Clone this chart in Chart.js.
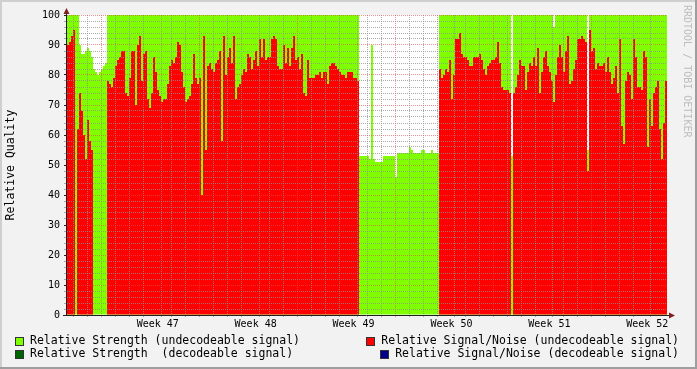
<!DOCTYPE html>
<html>
<head>
<meta charset="utf-8">
<script src="https://cdn.jsdelivr.net/npm/chart.js@4.4.1/dist/chart.umd.min.js"></script>
<style>
  html, body { margin: 0; padding: 0; background: #f2f2f2; }
  #wrap { width: 697px; height: 369px; }
</style>
</head>
<body>
<div id="wrap"><canvas id="qualityChart" width="697" height="369"></canvas></div>
<script>
// x axis runs in days, week 47 starts at day 0
const weekLabels = ['Week 47', 'Week 48', 'Week 49', 'Week 50', 'Week 51', 'Week 52'];
const yLabels = [0, 10, 20, 30, 40, 50, 60, 70, 80, 90, 100];
const seriesNames = [
  'Relative Strength (undecodeable signal)',
  'Relative Signal/Noise (undecodeable signal)',
  'Relative Strength  (decodeable signal)',
  'Relative Signal/Noise (decodeable signal)'
];

// one value per ~3.4 hours
const strengthUndecodeable = [
  100,100,100,100,100,100,90,87,87,88,89,88,86,82,81,80,81,82,83,84,
  100,100,100,100,100,100,100,100,100,100,100,100,100,100,100,100,100,100,100,100,
  100,100,100,100,100,100,100,100,100,100,100,100,100,100,100,100,100,100,100,100,
  100,100,100,100,100,100,100,100,100,100,100,100,100,100,100,100,100,100,100,100,
  100,100,100,100,100,100,100,100,100,100,100,100,100,100,100,100,100,100,100,100,
  100,100,100,100,100,100,100,100,100,100,100,100,100,100,100,100,100,100,100,100,
  100,100,100,100,100,100,100,100,100,100,100,100,100,100,100,100,100,100,100,100,
  100,100,100,100,100,100,53,53,53,53,53,52,90,52,51,51,51,51,53,53,
  53,53,53,53,46,54,54,54,54,54,54,56,55,54,54,54,54,55,55,54,
  54,54,55,54,54,54,100,100,100,100,100,100,100,100,100,100,100,100,100,100,
  100,100,100,100,100,100,100,100,100,100,100,100,100,100,100,100,100,100,100,100,
  100,100,53,100,100,100,100,100,100,100,100,100,100,100,100,100,100,100,100,100,
  100,100,100,96,100,100,100,100,100,100,100,100,100,100,100,100,100,100,100,100,
  55,100,100,100,100,100,100,100,100,100,100,100,100,100,100,100,100,100,100,100,
  100,100,100,100,100,100,100,100,100,100,100,100,100,100,100,100,100,100,100,100
];

const signalNoiseUndecodeable = [
  90,91,93,95,null,62,74,68,60,52,65,58,55,null,null,null,null,null,null,null,
  78,77,76,79,83,85,86,88,88,74,73,79,88,88,70,90,93,78,87,88,
  72,69,74,86,81,75,73,71,72,72,77,83,85,84,86,91,90,81,76,71,
  72,73,77,87,79,77,79,40,93,55,83,84,82,81,84,85,88,58,93,80,
  86,89,84,93,72,76,77,80,82,81,87,86,82,85,88,83,92,86,92,85,
  86,86,92,93,92,83,82,82,90,84,89,83,89,93,85,86,82,87,74,73,
  85,79,79,79,80,80,81,79,81,81,77,83,84,84,83,82,81,80,80,79,
  81,81,81,79,79,78,null,null,null,null,null,null,null,null,null,null,null,null,null,null,
  null,null,null,null,null,null,null,null,null,null,null,null,null,null,null,null,null,null,null,null,
  null,null,null,null,null,null,82,79,80,82,81,85,72,80,92,92,94,87,86,86,
  85,83,83,86,86,86,87,85,82,80,83,84,85,85,86,91,84,76,75,75,
  75,74,null,74,76,80,85,83,83,75,81,84,83,86,83,89,74,81,86,88,
  83,81,78,71,80,86,90,86,81,88,93,77,78,82,85,92,92,93,92,91,
  48,95,88,89,82,84,83,83,84,81,86,81,77,79,83,74,92,63,57,78,
  81,80,72,92,86,76,76,75,88,86,56,72,63,74,76,78,62,52,64,78
];

const GREEN = '#7fff00';
const RED = '#ff0000';
const legendColors = [GREEN, RED, '#006400', '#00008b'];
const GRID = 'rgba(143,143,143,0.75)';
const MGRID = 'rgba(222,79,79,0.6)';
const MONO = 'DejaVu Sans Mono';

Chart.defaults.font.family = MONO;
Chart.defaults.color = '#000';

const rrdDecor = {
  id: 'rrdDecor',
  beforeDraw(chart) {
    const {ctx, width, height, chartArea: a} = chart;
    ctx.save();
    ctx.fillStyle = '#f2f2f2';
    ctx.fillRect(0, 0, width, height);
    ctx.fillStyle = '#cfcfcf';
    ctx.fillRect(0, 0, width, 2);
    ctx.fillRect(0, 0, 2, height);
    ctx.fillStyle = '#9e9e9e';
    ctx.fillRect(width - 2, 0, 2, height);
    ctx.fillRect(0, height - 2, width, 2);
    ctx.fillStyle = '#ffffff';
    ctx.fillRect(a.left, a.top, a.right - a.left, a.bottom - a.top);
    ctx.restore();
  },
  afterDraw(chart) {
    const {ctx, chartArea: a} = chart;
    ctx.save();
    // axes with arrows
    ctx.strokeStyle = '#1f1f1f';
    ctx.lineWidth = 1;
    ctx.beginPath();
    ctx.moveTo(a.left - 0.5, a.bottom + 0.5);
    ctx.lineTo(a.left - 0.5, a.top - 6);
    ctx.moveTo(a.left - 4, a.bottom + 0.5);
    ctx.lineTo(a.right + 3, a.bottom + 0.5);
    ctx.stroke();
    ctx.fillStyle = '#7f1f1f';
    ctx.beginPath();
    ctx.moveTo(a.left - 3.5, a.top - 1);
    ctx.lineTo(a.left + 2.5, a.top - 1);
    ctx.lineTo(a.left - 0.5, a.top - 7);
    ctx.closePath();
    ctx.fill();
    ctx.beginPath();
    ctx.moveTo(a.right + 2, a.bottom - 2.5);
    ctx.lineTo(a.right + 2, a.bottom + 3.5);
    ctx.lineTo(a.right + 8, a.bottom + 0.5);
    ctx.closePath();
    ctx.fill();

    // legend, rrdtool style
    ctx.font = '11.5px "' + MONO + '"';
    ctx.textBaseline = 'middle';
    const rows = [341, 354.5];
    seriesNames.forEach((name, k) => {
      const y = rows[k >> 1];
      let tx;
      if (k % 2 === 0) {
        tx = 30;
      } else {
        tx = 679 - ctx.measureText(name).width;
      }
      const bx = Math.round(tx - 15);
      const by = Math.round(y - 4.5);
      ctx.fillStyle = legendColors[k];
      ctx.fillRect(bx, by, 9, 9);
      ctx.strokeStyle = '#333';
      ctx.strokeRect(bx + 0.5, by + 0.5, 8, 8);
      ctx.fillStyle = '#000';
      ctx.textAlign = 'left';
      ctx.fillText(name, tx, y);
    });

    // watermark
    ctx.translate(686.5, 5);
    ctx.rotate(Math.PI / 2);
    ctx.font = '10px "' + MONO + '"';
    ctx.fillStyle = '#bdbdbd';
    ctx.textBaseline = 'middle';
    ctx.fillText('RRDTOOL / TOBI OETIKER', 0, 0);
    ctx.restore();
  }
};

const ctx = document.getElementById('qualityChart');
new Chart(ctx, {
  type: 'bar',
  data: {
    labels: signalNoiseUndecodeable.map((_, i) => i),
    datasets: [
      {
        label: seriesNames[1],
        data: signalNoiseUndecodeable,
        backgroundColor: RED,
        order: 0
      },
      {
        label: seriesNames[0],
        data: strengthUndecodeable,
        backgroundColor: GREEN,
        order: 1
      }
    ]
  },
  options: {
    responsive: false,
    animation: false,
    devicePixelRatio: 1,
    layout: { padding: { left: 0, top: 15, right: 30, bottom: 34 } },
    datasets: {
      bar: {
        grouped: false,
        barPercentage: 1,
        categoryPercentage: 1,
        borderWidth: 0,
        inflateAmount: 0
      }
    },
    plugins: {
      legend: { display: false },
      tooltip: { enabled: false }
    },
    scales: {
      x: { display: false },
      days: {
        type: 'linear',
        position: 'bottom',
        axis: 'x',
        min: -2.54,
        max: 39.46,
        afterBuildTicks: (scale) => {
          const t = [];
          for (let d = -2; d <= 39; d++) t.push({ value: d });
          weekLabels.forEach((w, k) => t.push({ value: 7 * k + 3.5 }));
          t.sort((p, q) => p.value - q.value);
          scale.ticks = t;
        },
        afterFit: (scale) => { scale.height = 20; },
        ticks: {
          autoSkip: false,
          maxRotation: 0,
          padding: 1,
          font: { size: 10 },
          callback: (v) => {
            const k = (v - 3.5) / 7;
            return Number.isInteger(k) ? weekLabels[k] : '';
          }
        },
        grid: {
          z: 1,
          tickLength: 2,
          color: (c) => {
            const v = c.tick ? c.tick.value : 0.5;
            if (!Number.isInteger(v)) return 'rgba(0,0,0,0)';
            return v % 7 === 0 ? MGRID : GRID;
          },
          tickColor: (c) => {
            const v = c.tick ? c.tick.value : 0.5;
            if (!Number.isInteger(v)) return 'rgba(0,0,0,0)';
            return v % 7 === 0 ? MGRID : GRID;
          }
        },
        border: { display: false, dash: [1, 1] }
      },
      y: {
        min: 0,
        max: 100,
        afterBuildTicks: (scale) => {
          const t = [];
          for (let v = 0; v <= 100; v += 2) t.push({ value: v });
          scale.ticks = t;
        },
        afterFit: (scale) => { scale.width = 67; },
        ticks: {
          autoSkip: false,
          padding: 4,
          font: { size: 10 },
          callback: (v) => (yLabels.includes(v) ? String(v) : '')
        },
        grid: {
          z: 1,
          tickLength: 3,
          color: (c) => (c.tick && c.tick.value % 10 === 0 ? MGRID : GRID),
          tickColor: (c) => (c.tick && c.tick.value % 10 === 0 ? '#1f1f1f' : GRID)
        },
        border: { display: false, dash: [1, 1] },
        title: {
          display: true,
          text: 'Relative Quality',
          font: { size: 11.5 },
          padding: { top: 4, bottom: 0 }
        }
      }
    }
  },
  plugins: [rrdDecor]
});
</script>
</body>
</html>
